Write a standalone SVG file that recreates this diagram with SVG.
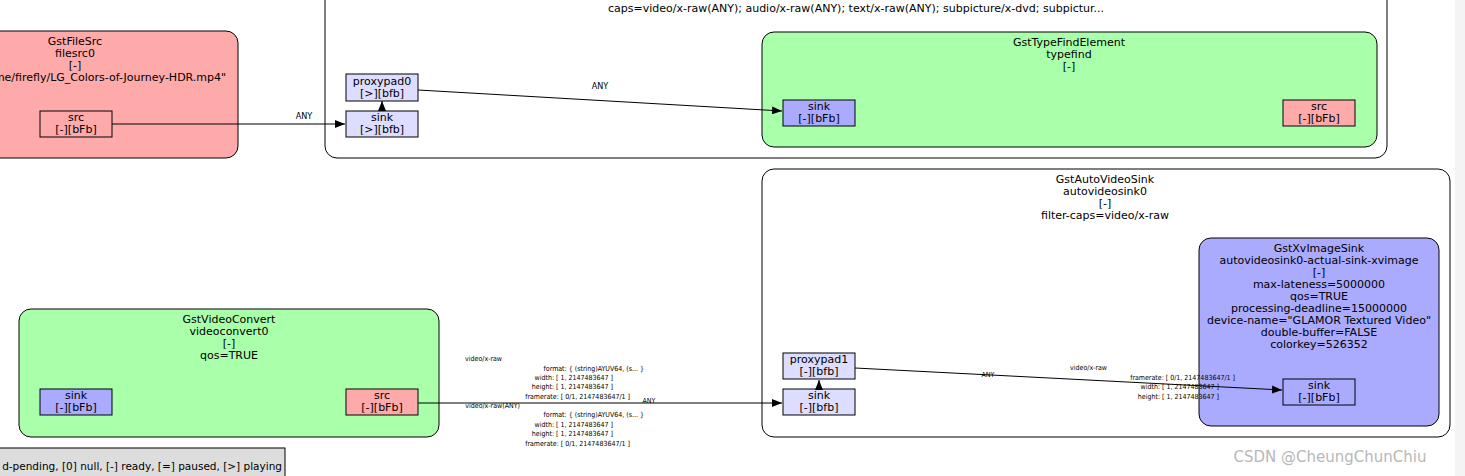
<svg xmlns="http://www.w3.org/2000/svg" width="1465" height="476" viewBox="0 0 1465 476">
<style>
text{font-family:"DejaVu Sans",sans-serif;font-size:11px;fill:#000;text-anchor:middle}
.c{stroke:#000;fill:none;stroke-width:1}
.pad{stroke:#000;stroke-width:1}
.cap{font-family:"DejaVu Sans Condensed","DejaVu Sans",sans-serif;font-size:7px;text-anchor:end}
.l{font-family:"DejaVu Sans Condensed","DejaVu Sans",sans-serif;font-size:9px}
</style>
<defs><marker id="a" markerWidth="10" markerHeight="8" refX="10" refY="4" orient="auto" markerUnits="userSpaceOnUse"><path d="M0,0L10,4L0,8z" fill="#000"/></marker></defs>
<rect width="1465" height="476" fill="#fff"/>
<rect x="1455" y="0" width="10" height="476" fill="#f4f4f4"/>
<g id="bin">
<rect x="325" y="-20" width="1062" height="178" rx="12" class="c"/>
<text x="856" y="12">caps=video/x-raw(ANY); audio/x-raw(ANY); text/x-raw(ANY); subpicture/x-dvd; subpictur...</text>
<rect x="346" y="74" width="72" height="27" fill="#ddddff" class="pad"/><text x="382" y="85">proxypad0</text><text x="382" y="97">[&gt;][bfb]</text>
<rect x="346" y="111" width="72" height="26" fill="#ddddff" class="pad"/><text x="382" y="121">sink</text><text x="382" y="133">[&gt;][bfb]</text>
</g>
<g id="filesrc">
<rect x="-20" y="31" width="258" height="127" rx="12" class="c" style="fill:#ffaaaa"/>
<text x="75" y="45">GstFileSrc</text><text x="75" y="57">filesrc0</text><text x="75" y="69">[-]</text><text x="110" y="81">me/firefly/LG_Colors-of-Journey-HDR.mp4"</text>
<rect x="40" y="111" width="72" height="26" fill="#ffaaaa" class="pad"/><text x="76" y="121">src</text><text x="76" y="133">[-][bFb]</text>
</g>
<g id="typefind">
<rect x="762" y="32" width="615" height="115" rx="12" class="c" style="fill:#aaffaa"/>
<text x="1069" y="46">GstTypeFindElement</text><text x="1069" y="58">typefind</text><text x="1069" y="70">[-]</text>
<rect x="783" y="100" width="72" height="26" fill="#aaaaff" class="pad"/><text x="819" y="110">sink</text><text x="819" y="122">[-][bFb]</text>
<rect x="1283" y="100" width="72" height="26" fill="#ffaaaa" class="pad"/><text x="1319" y="110">src</text><text x="1319" y="122">[-][bFb]</text>
</g>
<g id="autovideosink">
<rect x="762" y="169" width="688" height="268" rx="12" class="c"/>
<text x="1105" y="183">GstAutoVideoSink</text><text x="1105" y="195">autovideosink0</text><text x="1105" y="207">[-]</text><text x="1105" y="219">filter-caps=video/x-raw</text>
<rect x="783" y="353" width="72" height="26" fill="#ddddff" class="pad"/><text x="819" y="363">proxypad1</text><text x="819" y="375">[-][bfb]</text>
<rect x="783" y="389" width="72" height="26" fill="#ddddff" class="pad"/><text x="819" y="399">sink</text><text x="819" y="411">[-][bfb]</text>
</g>
<g id="xvimagesink">
<rect x="1199" y="238" width="240" height="188" rx="12" class="c" style="fill:#aaaaff"/>
<text x="1319" y="252">GstXvImageSink</text><text x="1319" y="264">autovideosink0-actual-sink-xvimage</text><text x="1319" y="276">[-]</text><text x="1319" y="288">max-lateness=5000000</text><text x="1319" y="300">qos=TRUE</text><text x="1319" y="312">processing-deadline=15000000</text><text x="1319" y="324">device-name="GLAMOR Textured Video"</text><text x="1319" y="336">double-buffer=FALSE</text><text x="1319" y="348">colorkey=526352</text>
<rect x="1283" y="379" width="72" height="26" fill="#aaaaff" class="pad"/><text x="1319" y="389">sink</text><text x="1319" y="401">[-][bFb]</text>
</g>
<g id="videoconvert">
<rect x="19" y="309" width="420" height="128" rx="12" class="c" style="fill:#aaffaa"/>
<text x="229" y="323">GstVideoConvert</text><text x="229" y="335">videoconvert0</text><text x="229" y="347">[-]</text><text x="229" y="359">qos=TRUE</text>
<rect x="40" y="389" width="72" height="26" fill="#aaaaff" class="pad"/><text x="76" y="399">sink</text><text x="76" y="411">[-][bFb]</text>
<rect x="346" y="389" width="72" height="26" fill="#ffaaaa" class="pad"/><text x="382" y="399">src</text><text x="382" y="411">[-][bFb]</text>
</g>
<g id="legend">
<rect x="-5" y="448" width="290" height="34" fill="#dddddd" stroke="#000"/>
<text x="282" y="470" style="text-anchor:end;font-size:10.5px">d-pending, [0] null, [-] ready, [=] paused, [&gt;] playing</text>
</g>
<g id="connectors">
<path d="M112,124H345" class="c" marker-end="url(#a)"/><text class="l" x="304" y="119">ANY</text>
<path d="M382,111V101" class="c" marker-end="url(#a)"/>
<path d="M418,90L782,111" class="c" marker-end="url(#a)"/><text class="l" x="600" y="89">ANY</text>
<path d="M418,403H782" class="c" marker-end="url(#a)"/><text class="l" x="649" y="403" style="font-size:7px">ANY</text>
<path d="M819,389V380" class="c" marker-end="url(#a)"/>
<path d="M855,368L1282,390" class="c" marker-end="url(#a)"/><text class="l" x="988" y="377" style="font-size:7px">ANY</text>
</g>
<g id="caps">
<text class="cap" x="502" y="361">video/x-raw</text>
<text class="cap" x="644" y="371">format: { (string)AYUV64, (s... }</text>
<text class="cap" x="613" y="380">width: [ 1, 2147483647 ]</text>
<text class="cap" x="613" y="389">height: [ 1, 2147483647 ]</text>
<text class="cap" x="630" y="399">framerate: [ 0/1, 2147483647/1 ]</text>
<text class="cap" x="520" y="408">video/x-raw(ANY)</text>
<text class="cap" x="644" y="417">format: { (string)AYUV64, (s... }</text>
<text class="cap" x="613" y="427">width: [ 1, 2147483647 ]</text>
<text class="cap" x="613" y="436">height: [ 1, 2147483647 ]</text>
<text class="cap" x="630" y="446">framerate: [ 0/1, 2147483647/1 ]</text>
<text class="cap" x="1107" y="370">video/x-raw</text>
<text class="cap" x="1235" y="380">framerate: [ 0/1, 2147483647/1 ]</text>
<text class="cap" x="1219" y="389">width: [ 1, 2147483647 ]</text>
<text class="cap" x="1219" y="399">height: [ 1, 2147483647 ]</text>
</g>
<text x="1330" y="462" style="font-size:15px;fill:#b8b8b8">CSDN @CheungChunChiu</text>
</svg>
